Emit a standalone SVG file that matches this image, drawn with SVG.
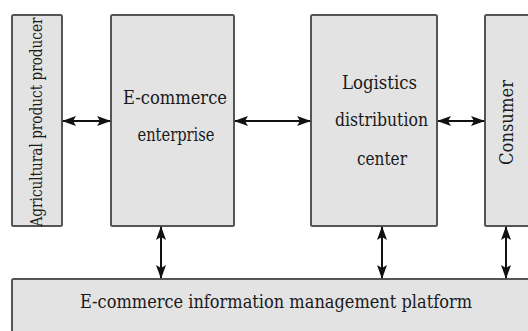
<svg xmlns="http://www.w3.org/2000/svg" width="528" height="331" viewBox="0 0 528 331">
  <style>
    .box { fill: #e3e3e3; stroke: #555555; stroke-width: 2; }
    .lbl { font-family: "DejaVu Serif", "Liberation Serif", serif; font-size: 18px; fill: #1a1a1a; text-anchor: middle; }
    .link { stroke: #111111; stroke-width: 2; fill: none; marker-start: url(#head); marker-end: url(#head); }
  </style>
  <defs>
    <marker id="head" viewBox="0 0 14 10" refX="13" refY="5" markerWidth="14" markerHeight="10" markerUnits="userSpaceOnUse" orient="auto-start-reverse">
      <path d="M0,0 L14,5 L0,10 L3,5 Z" fill="#111111"/>
    </marker>
  </defs>
  <rect width="528" height="331" fill="#ffffff"/>

  <g id="producer">
    <rect class="box" x="12" y="15" width="50" height="211" rx="1.5"/>
    <text class="lbl" transform="translate(41.5,122) rotate(-90)" style="font-size:17px" textLength="209" lengthAdjust="spacingAndGlyphs">Agricultural product producer</text>
  </g>

  <g id="enterprise">
    <rect class="box" x="111" y="15" width="123" height="211" rx="1.5"/>
    <text class="lbl" x="175" y="104" textLength="104" lengthAdjust="spacingAndGlyphs">E-commerce</text>
    <text class="lbl" x="176" y="141" textLength="77" lengthAdjust="spacingAndGlyphs">enterprise</text>
  </g>

  <g id="logistics">
    <rect class="box" x="311" y="15" width="126" height="211" rx="1.5"/>
    <text class="lbl" x="379.5" y="89" textLength="75" lengthAdjust="spacingAndGlyphs">Logistics</text>
    <text class="lbl" x="381.5" y="126" textLength="93" lengthAdjust="spacingAndGlyphs">distribution</text>
    <text class="lbl" x="382" y="165" textLength="50" lengthAdjust="spacingAndGlyphs">center</text>
  </g>

  <g id="consumer">
    <rect class="box" x="485" y="15" width="60" height="211" rx="1.5"/>
    <text class="lbl" transform="translate(513,122.5) rotate(-90)" textLength="85" lengthAdjust="spacingAndGlyphs">Consumer</text>
  </g>

  <g id="platform">
    <rect class="box" x="12" y="279" width="530" height="60" rx="1.5"/>
    <text class="lbl" x="276" y="308" textLength="392" lengthAdjust="spacingAndGlyphs">E-commerce information management platform</text>
  </g>

  <g id="connectors">
    <line class="link" x1="63" y1="121" x2="110" y2="121"/>
    <line class="link" x1="235" y1="121" x2="310" y2="121"/>
    <line class="link" x1="438" y1="121" x2="484" y2="121"/>
    <line class="link" x1="161" y1="227" x2="161" y2="278"/>
    <line class="link" x1="382" y1="227" x2="382" y2="278"/>
    <line class="link" x1="506" y1="227" x2="506" y2="278"/>
  </g>
</svg>
